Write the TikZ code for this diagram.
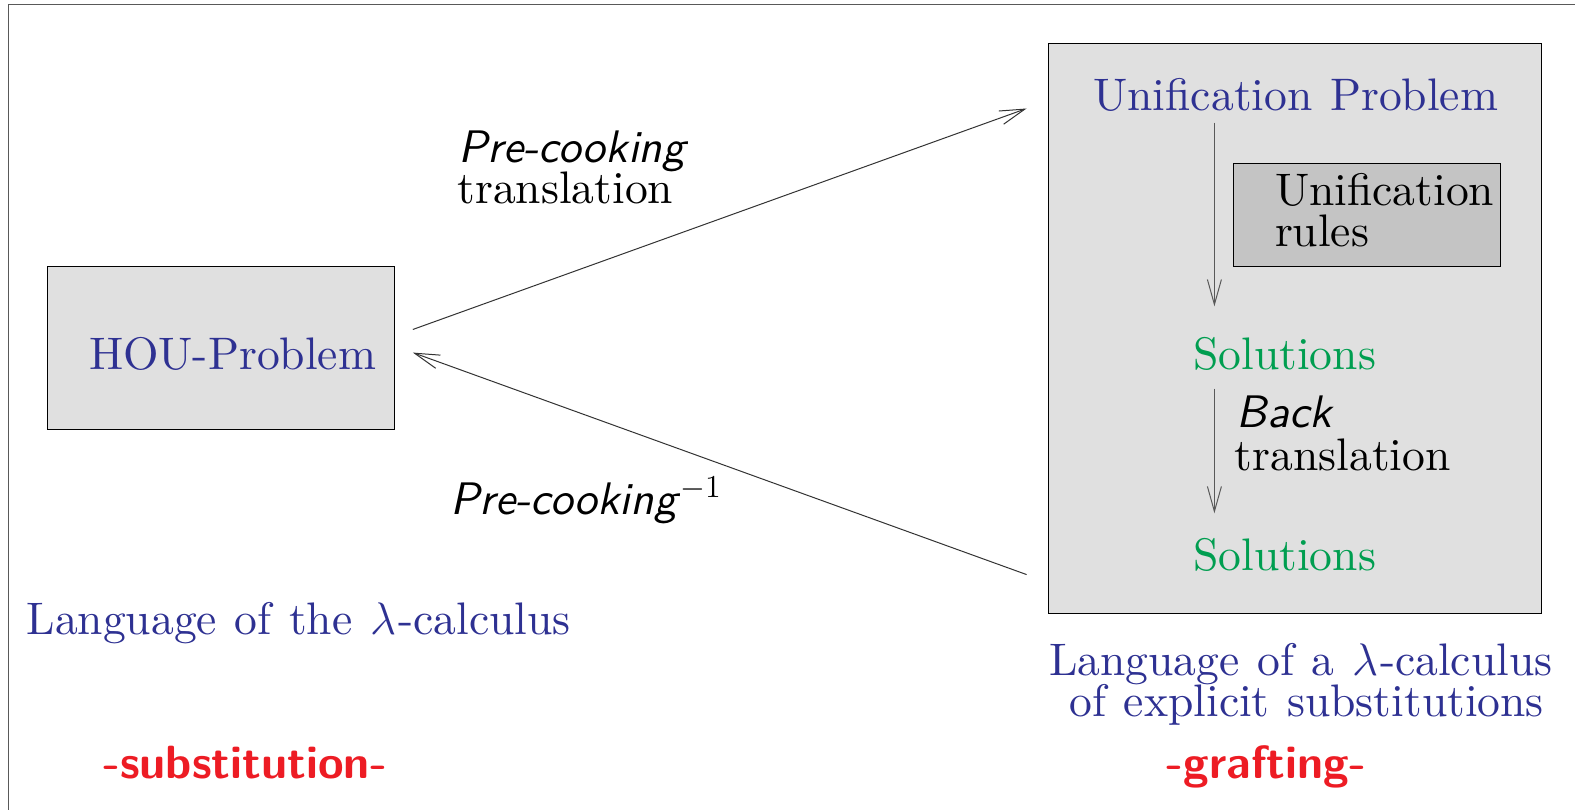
\RequirePackage{fix-cm}
\documentclass[tikz,border=0pt]{standalone}
\usepackage{fontspec}
\setmainfont{lmroman10-regular.otf}[ItalicFont=lmroman10-italic.otf,BoldFont=lmroman10-bold.otf]
\setsansfont{lmsans10-regular.otf}[ItalicFont=lmsans10-oblique.otf,BoldFont=lmsans10-bold.otf]
\usetikzlibrary{arrows.meta}
\definecolor{tblue}{RGB}{46,49,146}
\definecolor{tgreen}{RGB}{0,158,80}
\definecolor{tred}{RGB}{237,28,36}
\definecolor{boxfill}{RGB}{224,224,224}
\definecolor{innerfill}{RGB}{196,196,196}
\newcommand{\lam}{$\lambda$\kern1pt}
\newcommand{\widesp}{\spaceskip=8.8pt\relax}
\begin{document}
\begin{tikzpicture}[x=0.50225pt,y=-0.50225pt,
  txt/.style={inner sep=0pt,anchor=base,font=\fontsize{22.8}{24}\selectfont\widesp},
  txtl/.style={txt,anchor=base west},
  bluet/.style={text=tblue},
  greent/.style={text=tgreen},
  redt/.style={inner sep=0pt,anchor=base,text=tred,font=\fontsize{23.3}{25}\selectfont\sffamily\bfseries},
  slt/.style={font=\fontsize{22.8}{24}\selectfont\sffamily\itshape},
  gbox/.style={draw=black,line width=0.5pt,fill=boxfill},
  ibox/.style={draw=black,line width=0.5pt,fill=innerfill},
  longarr/.style={draw=black!80,line width=0.5pt,-{Straight Barb[length=12.5pt,width=7pt,line width=0.5pt]}},
  vertarr/.style={draw=black!65,line width=0.7pt,-{Straight Barb[length=12.5pt,width=7pt,line width=0.5pt]}},
  frameline/.style={draw=black!65,line width=0.8pt}]
\useasboundingbox (0,0) rectangle (1568,806.4);
% frame (top and left only visible)
\coordinate (f1) at (1568,4.5);
\coordinate (f2) at (8.5,4.5);
\coordinate (f3) at (8.5,806.4);
\draw[frameline] (f1) -- (f2) -- (f3);
% boxes
\path[gbox] (47,265) rectangle (393,428);
\path[gbox] (1044,43) rectangle (1535,611);
\path[ibox] (1228,163) rectangle (1494,265);
% texts
\node[txt,bluet] (hou) at (231.5,368) {HOU-Problem};
\node[txt,bluet] (unif) at (1290,110) {Unification Problem};
\node[txtl] (ur1) at (1269,205) {Unification};
\node[txtl] (ur2) at (1269,245) {rules};
\node[txt,greent] (sol1) at (1279,368) {Solutions};
\node[txtl,slt] (back1) at (1231,426) {Back};
\node[txtl] (back2) at (1229,468) {translation};
\node[txt,greent] (sol2) at (1279,568) {Solutions};
\node[txtl,slt] (pc1) at (456,162) {Pre-cooking};
\node[txtl] (pc2) at (455,203) {translation};
\node[txtl,slt] (pci) at (448,512) {Pre-cooking\kern1.5pt$^{-1}$};
\node[txtl,bluet] (lang1) at (26,632) {Language of the \lam-calculus};
\node[txt,bluet] (lang2a) at (1295,672) {Language of a \lam-calculus};
\node[txt,bluet] (lang2b) at (1301,713) {of explicit substitutions};
\node[redt] (subst) at (244,775) {-substitution-};
\node[redt] (graft) at (1261,775) {-grafting-};
% connectors
\coordinate (a1s) at (411,328);
\coordinate (a1e) at (1022,108);
\coordinate (a2s) at (1022,572);
\coordinate (a2e) at (411,351);
\draw[longarr] (a1s) -- (a1e);
\draw[longarr] (a2s) -- (a2e);
\coordinate (v1s) at (1209,122);
\coordinate (v1e) at (1209,305);
\coordinate (v2s) at (1209,387);
\coordinate (v2e) at (1209,511);
\draw[vertarr] (v1s) -- (v1e);
\draw[vertarr] (v2s) -- (v2e);
\end{tikzpicture}
\end{document}
